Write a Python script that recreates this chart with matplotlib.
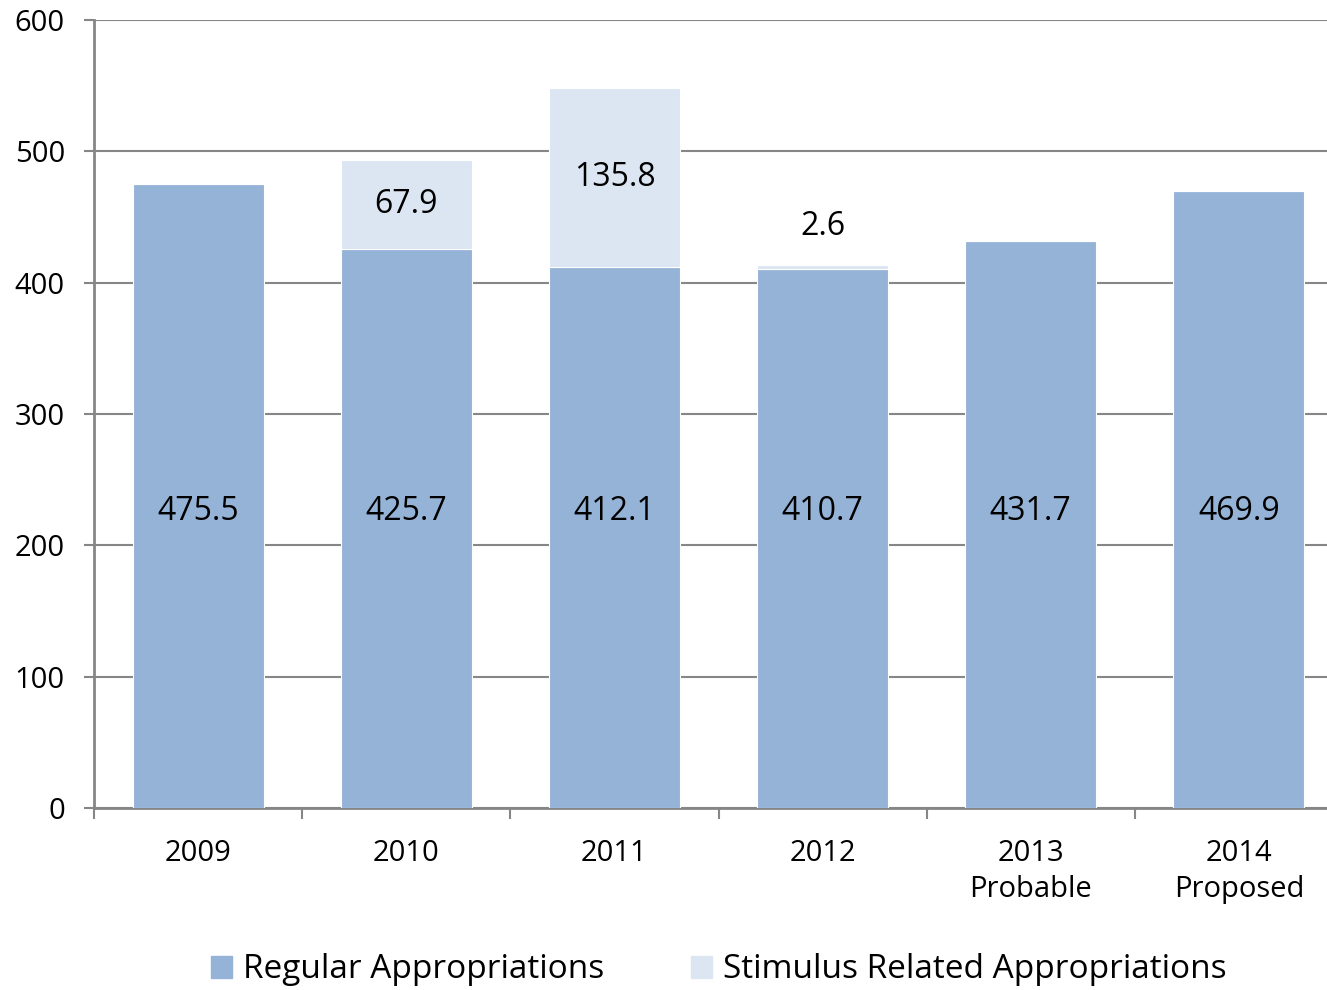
import numpy as np
import matplotlib
matplotlib.use("Agg")
import matplotlib.pyplot as plt
from matplotlib.patches import Patch

years = ["2009", "2010", "2011", "2012", "2013\nProbable", "2014\nProposed"]
regular = [475.5, 425.7, 412.1, 410.7, 431.7, 469.9]
stimulus = [0, 67.9, 135.8, 2.6, 0, 0]

reg_color = "#95B3D7"
stim_color = "#DCE6F2"
grid_color = "#868686"

plt.rcParams["font.family"] = ["Open Sans", "DejaVu Sans"]

fig = plt.figure(figsize=(13.27, 9.9), dpi=100)
# axes runs a little past the right edge, like the original export
ax = fig.add_axes([94 / 1327, 1 - 808 / 990, (1343 - 94) / 1327, (808 - 20) / 990])

x = np.arange(len(years))
w = 0.63
ax.bar(x, regular, w, color=reg_color, edgecolor="white", linewidth=0.8, zorder=3)
ax.bar(x, stimulus, w, bottom=regular, color=stim_color, edgecolor="white",
       linewidth=0.8, zorder=3)

# labels in the bars, all at about the same height like the original
label_y = 0.55 * min(regular)
for i in range(len(years)):
    ax.text(x[i], label_y, "{0:.1f}".format(regular[i]), ha="center",
            va="center", fontsize=23, zorder=4)
    if stimulus[i] > 0:
        top = regular[i] + stimulus[i]
        if stimulus[i] > 20:
            ax.text(x[i], regular[i] + stimulus[i] / 2, "{0:.1f}".format(stimulus[i]),
                    ha="center", va="center", fontsize=23, zorder=4)
        else:
            ax.annotate("{0:.1f}".format(stimulus[i]), (x[i], top), xytext=(0, 28),
                        textcoords="offset points", ha="center", va="center",
                        fontsize=23, zorder=4)

ax.set_ylim(0, 600)
ax.set_xlim(-0.5, len(years) - 0.5)
ax.set_yticks(np.arange(0, 601, 100))
ax.yaxis.grid(True, color=grid_color, linewidth=1.5, zorder=0)
ax.tick_params(axis="y", length=7, width=1.5, color=grid_color, labelsize=21, pad=14)

ax.set_xticks(np.arange(len(years) + 1) - 0.5, minor=False)
ax.set_xticklabels([])
ax.set_xticks(x, minor=True)
ax.set_xticklabels(years, minor=True, fontsize=21, linespacing=1.35)
ax.tick_params(axis="x", which="major", length=8, width=1.5, color=grid_color)
ax.tick_params(axis="x", which="minor", length=0, pad=22)

for s in ["top", "right"]:
    ax.spines[s].set_visible(False)
for s in ["left", "bottom"]:
    ax.spines[s].set_color(grid_color)
    ax.spines[s].set_linewidth(2)

handles = [Patch(color=reg_color, label="Regular Appropriations"),
           Patch(color=stim_color, label="Stimulus Related Appropriations")]
fig.legend(handles=handles, loc="center", bbox_to_anchor=(719 / 1327, 1 - 970 / 990),
           ncol=2, frameon=False, fontsize=24, handlelength=0.62, handleheight=0.62,
           handletextpad=0.35, columnspacing=2.6)

fig.savefig("out.png", dpi=100)
